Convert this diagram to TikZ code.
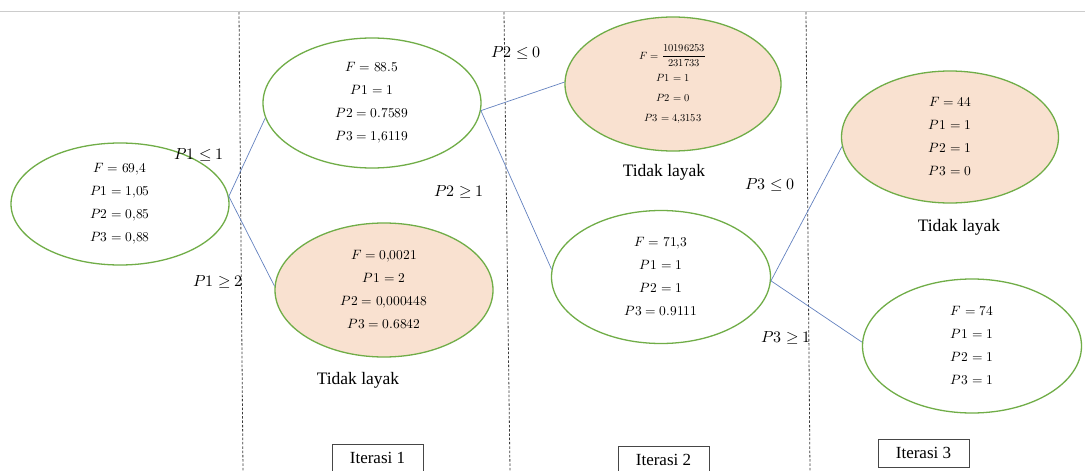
\documentclass[tikz,border=0pt]{standalone}
\usepackage{fontspec}
\usepackage{unicode-math}
\setmainfont{Liberation Serif}
\setmathfont{Latin Modern Math}
\usetikzlibrary{shapes.geometric}
\definecolor{nodegreen}{RGB}{112,173,71}
\definecolor{peach}{RGB}{249,225,208}
\definecolor{edgeblue}{RGB}{100,130,192}
\definecolor{divgray}{RGB}{60,60,60}
\definecolor{boxgray}{RGB}{70,70,70}
\tikzset{
  solnode/.style={ellipse, draw=nodegreen, line width=1.3pt, inner sep=0pt, align=center,
    font=\fontsize{13.5}{23}\selectfont},
  infeas/.style={solnode, fill=peach},
  branch/.style={draw=edgeblue, line width=0.7pt},
  cond/.style={inner sep=0pt, font=\fontsize{16}{18}\selectfont},
  note/.style={inner sep=0pt, font=\fontsize{17.5}{20}\selectfont},
  iterbox/.style={draw=boxgray, line width=0.8pt, minimum width=91pt, minimum height=28pt,
    inner sep=0pt, font=\fontsize{17}{20}\selectfont},
  divider/.style={draw=divgray, line width=0.8pt, dash pattern=on 2.5pt off 1.8pt}
}
\begin{document}
\begin{tikzpicture}[x=1pt,y=-1pt]
\clip (0,0) rectangle (1085,471);
\fill[white] (0,0) rectangle (1085,471);
% top rule
\draw[black!20, line width=0.8pt] (0,11.5) -- (1085,11.5);
% dividers
\draw[divider] (239,12) -- (243,471);
\draw[divider] (504,12) -- (510,471);
\draw[divider] (806,12) -- (810,471);
% solution nodes
\node[solnode, minimum width=218pt, minimum height=122pt] (root) at (120,204)
  {$F = 69{,}4$\\ $P1 = 1{,}05$\\ $P2 = 0{,}85$\\ $P3 = 0{,}88$};
\node[solnode, minimum width=218pt, minimum height=130pt] (A) at (372,103)
  {$F = 88.5$\\ $P1 = 1$\\ $P2 = 0.7589$\\ $P3 = 1{,}6119$};
\node[infeas, minimum width=218pt, minimum height=134pt] (B) at (384,290)
  {$F = 0{,}0021$\\ $P1 = 2$\\ $P2 = 0{,}000448$\\ $P3 = 0.6842$};
\node[infeas, minimum width=216pt, minimum height=134pt, font=\fontsize{10.5}{20}\selectfont] (C) at (673,84)
  {$F = \displaystyle\frac{10196253}{231733}$\\[2pt] $P1 = 1$\\ $P2 = 0$\\ $P3 = 4{,}3153$};
\node[solnode, minimum width=219pt, minimum height=133pt] (D) at (661,277)
  {$F = 71{,}3$\\ $P1 = 1$\\ $P2 = 1$\\ $P3 = 0.9111$};
\node[infeas, minimum width=217pt, minimum height=132pt] (E) at (950,137)
  {$F = 44$\\ $P1 = 1$\\ $P2 = 1$\\ $P3 = 0$};
\node[solnode, minimum width=219pt, minimum height=134pt] (F) at (972,346)
  {$F = 74$\\ $P1 = 1$\\ $P2 = 1$\\ $P3 = 1$};
% branches
\draw[branch] (root.4) -- (A.188);
\draw[branch] (root.4) -- (B.178);
\draw[branch] (A.-4) -- (C.179);
\draw[branch] (A.-4) -- (D.176);
\draw[branch] (D.-2) -- (E.185);
\draw[branch] (D.-2) -- (F.178);
% branch conditions
\node[cond] (c1) at (199,155) {$P1 \le 1$};
\node[cond] (c2) at (218,282) {$P1 \ge 2$};
\node[cond] (c3) at (516,53) {$P2 \le 0$};
\node[cond] (c4) at (459,192) {$P2 \ge 1$};
\node[cond] (c5) at (770,185) {$P3 \le 0$};
\node[cond] (c6) at (786,338) {$P3 \ge 1$};
% infeasible notes
\node[note] (t1) at (358,380) {Tidak layak};
\node[note] (t2) at (664,172) {Tidak layak};
\node[note] (t3) at (959,227) {Tidak layak};
% iteration boxes
\node[iterbox] (it1) at (377.5,458) {Iterasi 1};
\node[iterbox] (it2) at (663.5,460) {Iterasi 2};
\node[iterbox] (it3) at (923.5,453) {Iterasi 3};
\end{tikzpicture}
\end{document}
